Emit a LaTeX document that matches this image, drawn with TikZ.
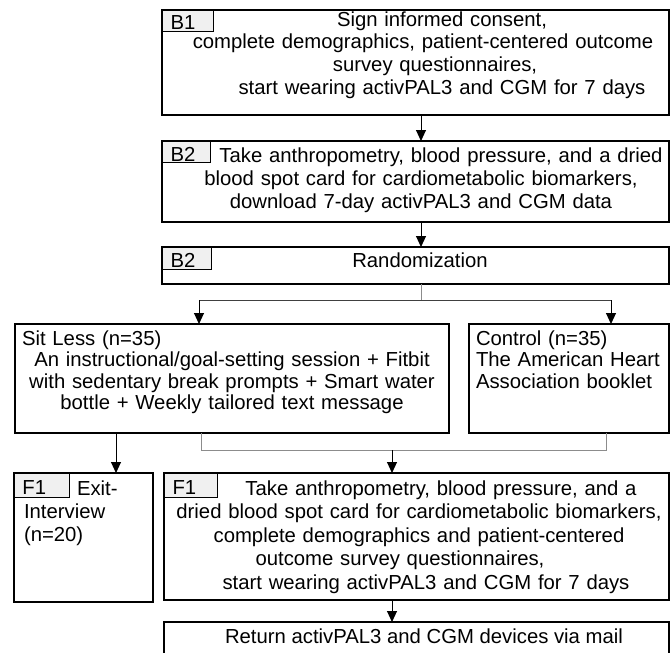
\documentclass[tikz,border=0pt]{standalone}
\usepackage{fontspec}
\setmainfont{Liberation Sans}
\usetikzlibrary{arrows.meta}
\newcommand{\dfont}{\fontsize{20.3}{23}\selectfont}
\newcommand{\dfontb}{\fontsize{20.3}{23.5}\selectfont}
\newcommand{\dfontc}{\fontsize{20.3}{21.5}\selectfont}
\tikzset{
  box/.style={draw, line width=1.3pt, fill=white, anchor=north west, inner sep=0pt, outer sep=0pt},
  tabbox/.style={draw, line width=1pt, fill=black!6, anchor=north west, inner xsep=8pt, inner ysep=0pt, align=left, font=\dfont, text height=18pt, text depth=0pt},
  txt/.style={anchor=base, inner sep=0pt, outer sep=0pt, align=center, font=\dfont},
  ltxt/.style={anchor=base west, inner sep=0pt, outer sep=0pt, align=left, font=\dfont},
  arr/.style={line width=1pt, draw=black, -{Triangle[length=11pt,width=10pt]}},
  gline/.style={line width=1pt, draw=black!45},
  dline/.style={line width=1pt, draw=black!75},
}
\begin{document}
\begin{tikzpicture}[x=1pt,y=-1pt]
\useasboundingbox (0,0) rectangle (670,653);
\clip (0,0) rectangle (670,653);
\fill[white] (0,0) rectangle (670,653);

% B1
\node[box, minimum width=507pt, minimum height=105pt] (b1) at (162,10) {};
\node[tabbox, text width=35pt, minimum height=21pt] (b1tab) at (162,10) {B1};
\node[txt, text width=490pt] (b1t) at (423,26) {\hspace*{38pt}Sign informed consent,\\complete demographics, patient-centered outcome\\\hspace*{24pt}survey questionnaires,\\\hspace*{38pt}start wearing activPAL3 and CGM for 7 days};

% B2
\node[box, minimum width=507pt, minimum height=81pt] (b2) at (162,141) {};
\node[tabbox, text width=32pt, minimum height=21pt] (b2tab) at (162,141) {B2};
\node[txt, text width=495pt] (b2t) at (421,162) {\hspace*{40pt}Take anthropometry, blood pressure, and a dried\\blood spot card for cardiometabolic biomarkers,\\download 7-day activPAL3 and CGM data};

% Randomization
\node[box, minimum width=507pt, minimum height=37pt] (rand) at (162,247) {};
\node[tabbox, text width=33pt, minimum height=22pt] (randtab) at (162,247) {B2};
\node[txt] (randt) at (420,267) {Randomization};

% Sit Less
\node[box, minimum width=434pt, minimum height=109pt] (sitless) at (15,324) {};
\node[txt, text width=420pt, font=\dfontc] (sitlesst) at (232,345) {\makebox[\linewidth][l]{Sit Less (n=35)}\\An instructional/goal-setting session + Fitbit\\with sedentary break prompts + Smart water\\bottle + Weekly tailored text message};

% Control
\node[box, minimum width=200pt, minimum height=109pt] (control) at (469,324) {};
\node[ltxt, text width=190pt, font=\dfontc] (controlt) at (476,345) {Control (n=35)\\The American Heart\\Association booklet};

% F1 exit interview
\node[box, minimum width=139pt, minimum height=129pt] (f1s) at (14,473) {};
\node[tabbox, text width=39pt, minimum height=24pt] (f1stab) at (14,473) {F1};
\node[ltxt, text width=125pt] (f1st) at (24,495) {\hspace*{53pt}Exit-\\Interview\\(n=20)};

% F1 follow-up
\node[box, minimum width=505pt, minimum height=127pt] (f1) at (164,473) {};
\node[tabbox, text width=37pt, minimum height=24pt] (f1tab) at (164,473) {F1};
\node[txt, text width=500pt, font=\dfontb] (f1t) at (419,495) {\hspace*{44pt}Take anthropometry, blood pressure, and a\\dried blood spot card for cardiometabolic biomarkers,\\complete demographics and patient-centered\\outcome survey questionnaires,\hspace*{38pt}\mbox{}\\\hspace*{14pt}start wearing activPAL3 and CGM for 7 days};

% Return
\node[box, minimum width=505pt, minimum height=60pt] (ret) at (164,622) {};
\node[txt] (rett) at (424,643) {Return activPAL3 and CGM devices via mail};

% helper coordinates
\coordinate (ax) at (421,0);
\coordinate (split) at (421,300);
\coordinate (sl) at (199,300);
\coordinate (cr) at (611,300);
\coordinate (ex) at (116,0);
\coordinate (jl) at (201,450);
\coordinate (jr) at (606,450);
\coordinate (jm) at (392,450);

% connectors
\draw[arr] (b1.south -| ax) -- (b2.north -| ax);
\draw[arr] (b2.south -| ax) -- (rand.north -| ax);
\draw[gline] (rand.south -| split) -- (split);
\draw[dline] (sl) -- (cr);
\draw[arr] (sl) -- (sl |- sitless.north);
\draw[arr] (cr) -- (cr |- control.north);
\draw[arr] (sitless.south -| ex) -- (f1s.north -| ex);
\draw[gline] (jl |- sitless.south) -- (jl) -- (jr) -- (jr |- control.south);
\draw[arr] (jm) -- (jm |- f1.north);
\draw[arr] (f1.south -| jm) -- (ret.north -| jm);
\end{tikzpicture}
\end{document}
